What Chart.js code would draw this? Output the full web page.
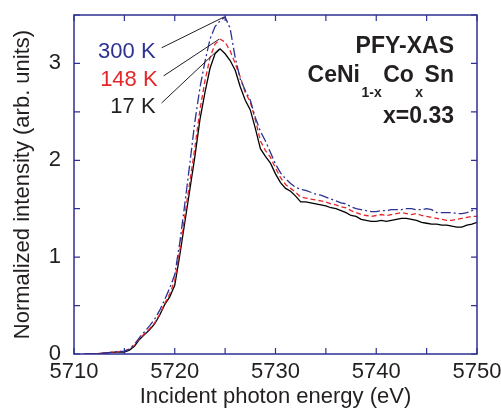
<!DOCTYPE html>
<html>
<head>
<meta charset="utf-8">
<script src="https://cdn.jsdelivr.net/npm/chart.js@4/dist/chart.umd.min.js"></script>
<style>
  html, body { margin: 0; padding: 0; background: #fff; }
  #wrap { width: 501px; height: 410px; }
</style>
</head>
<body>
<div id="wrap"><canvas id="xas"></canvas></div>
<script>
// photon energy (eV)
const energies = [
  5711, 5712, 5713, 5714, 5715, 5715.5, 5716, 5716.5, 5717, 5717.5,
  5718, 5718.5, 5719, 5719.5, 5720, 5720.5, 5721, 5721.5, 5722, 5722.5,
  5723, 5723.5, 5724, 5724.5, 5725, 5725.5, 5726, 5726.5, 5727, 5727.5,
  5728, 5728.5, 5729, 5729.5, 5730, 5730.5, 5731, 5731.5, 5732, 5732.5,
  5733, 5733.5, 5734, 5734.5, 5735, 5735.5, 5736, 5736.5, 5737, 5737.5,
  5738, 5738.5, 5739, 5739.5, 5740, 5740.5, 5741, 5741.5, 5742, 5742.5,
  5743, 5743.5, 5744, 5744.5, 5745, 5745.5, 5746, 5746.5, 5747, 5747.5,
  5748, 5748.5, 5749, 5749.5, 5750
];

const k300 = [
  0, 0, 0.01, 0.02, 0.03, 0.05, 0.10, 0.17, 0.23, 0.29,
  0.36, 0.45, 0.56, 0.68, 0.82, 1.15, 1.55, 1.97, 2.40, 2.75,
  3.02, 3.25, 3.38, 3.44, 3.48, 3.36, 3.06, 2.84, 2.72, 2.62,
  2.44, 2.30, 2.20, 2.08, 1.96, 1.87, 1.81, 1.76, 1.72, 1.70,
  1.69, 1.67, 1.65, 1.64, 1.62, 1.60, 1.58, 1.56, 1.55, 1.52,
  1.50, 1.49, 1.48, 1.47, 1.47, 1.48, 1.48, 1.49, 1.49, 1.49,
  1.50, 1.50, 1.49, 1.49, 1.50, 1.49, 1.46, 1.46, 1.46, 1.46,
  1.45, 1.45, 1.46, 1.48, 1.50
];

const k148 = [
  0, 0, 0.01, 0.02, 0.03, 0.05, 0.09, 0.16, 0.21, 0.26,
  0.32, 0.41, 0.52, 0.62, 0.76, 1.07, 1.43, 1.78, 2.13, 2.52,
  2.82, 3.06, 3.20, 3.25, 3.22, 3.13, 3.00, 2.86, 2.70, 2.60,
  2.42, 2.20, 2.10, 2.03, 1.92, 1.82, 1.75, 1.71, 1.67, 1.62,
  1.61, 1.60, 1.59, 1.58, 1.57, 1.55, 1.54, 1.52, 1.51, 1.48,
  1.46, 1.44, 1.43, 1.42, 1.43, 1.44, 1.43, 1.44, 1.45, 1.46,
  1.45, 1.44, 1.45, 1.43, 1.42, 1.41, 1.40, 1.39, 1.38, 1.38,
  1.39, 1.40, 1.41, 1.42, 1.42
];

const k17 = [
  0, 0, 0.01, 0.02, 0.02, 0.04, 0.08, 0.15, 0.20, 0.25,
  0.31, 0.40, 0.51, 0.59, 0.71, 1.02, 1.36, 1.70, 2.04, 2.42,
  2.70, 2.95, 3.10, 3.15, 3.10, 3.03, 2.93, 2.76, 2.62, 2.52,
  2.33, 2.12, 2.04, 1.97, 1.86, 1.77, 1.71, 1.68, 1.63, 1.57,
  1.57, 1.56, 1.55, 1.54, 1.53, 1.51, 1.50, 1.48, 1.46, 1.43,
  1.42, 1.39, 1.38, 1.37, 1.37, 1.38, 1.37, 1.38, 1.39, 1.40,
  1.40, 1.39, 1.38, 1.36, 1.35, 1.34, 1.34, 1.33, 1.33, 1.32,
  1.31, 1.31, 1.33, 1.34, 1.36
];

const seriesNames = ['300 K', '148 K', '17 K'];
const xTicks = [5710, 5720, 5730, 5740, 5750];
const yTicks = [0, 1, 2, 3];

const FONT = '"Liberation Sans", Arial, Helvetica, sans-serif';
const AXIS = '#2e3192';
const INK = '#231f20';
const BLUE = '#2e3192';
const RED = '#e4262a';

function pts(vals) {
  return energies.map((e, i) => ({ x: e, y: vals[i] }));
}

// keep the plot box where the layout padding puts it
function noPad(s) {
  s.paddingTop = 0; s.paddingBottom = 0; s.paddingLeft = 0; s.paddingRight = 0;
}

// frame with inward ticks, temperature labels with leader lines, sample text
const decor = {
  id: 'decor',
  afterDatasetsDraw(chart) {
    const { ctx, chartArea: a, scales: { x, y } } = chart;
    ctx.save();
    ctx.strokeStyle = AXIS;
    ctx.lineWidth = 1.5;
    ctx.strokeRect(a.left, a.top, a.right - a.left, a.bottom - a.top);
    ctx.lineWidth = 1.2;
    ctx.beginPath();
    for (let v = x.min; v <= x.max + 1e-6; v += 5) {
      const px = x.getPixelForValue(v);
      ctx.moveTo(px, a.bottom); ctx.lineTo(px, a.bottom - 6);
      ctx.moveTo(px, a.top); ctx.lineTo(px, a.top + 6);
    }
    for (let v = y.min; v <= y.max + 1e-6; v += 0.5) {
      const py = y.getPixelForValue(v);
      ctx.moveTo(a.left, py); ctx.lineTo(a.left + 6, py);
      ctx.moveTo(a.right, py); ctx.lineTo(a.right - 6, py);
    }
    ctx.stroke();

    // temperature labels
    const labelPos = [[5718.1, 3.12], [5718.3, 2.83], [5718.1, 2.55]];
    const colors = [BLUE, RED, INK];
    ctx.font = '22px ' + FONT;
    ctx.textAlign = 'right';
    ctx.textBaseline = 'middle';
    chart.data.datasets.forEach((ds, i) => {
      const lx = x.getPixelForValue(labelPos[i][0]);
      const ly = y.getPixelForValue(labelPos[i][1]);
      ctx.fillStyle = colors[i];
      ctx.fillText(seriesNames[i], lx, ly);
      // leader line to the peak of the curve
      let best = ds.data[0];
      ds.data.forEach(p => { if (p.y > best.y) best = p; });
      ctx.strokeStyle = INK;
      ctx.lineWidth = 1;
      ctx.beginPath();
      ctx.moveTo(lx + 6, ly - 4);
      ctx.lineTo(x.getPixelForValue(best.x) - 1, y.getPixelForValue(best.y));
      ctx.stroke();
    });

    // sample annotation (right aligned)
    const rx = a.right - 23;
    ctx.fillStyle = INK;
    ctx.textAlign = 'right';
    ctx.textBaseline = 'alphabetic';
    ctx.font = 'bold 23px ' + FONT;
    ctx.fillText('PFY-XAS', rx, a.top + 38);
    ctx.fillText('x=0.33', rx, a.top + 108);

    const parts = [['CeNi', 0], ['1-x', 1], ['Co', 0], ['x', 1], ['Sn', 0]];
    const big = 'bold 23px ' + FONT, small = 'bold 14px ' + FONT;
    let w = 0;
    parts.forEach(([t, s]) => { ctx.font = s ? small : big; w += ctx.measureText(t).width + (s ? 3 : 0); });
    let cx = rx - w;
    ctx.textAlign = 'left';
    const base = a.top + 67;
    parts.forEach(([t, s]) => {
      ctx.font = s ? small : big;
      ctx.fillText(t, cx + (s ? 1.5 : 0), s ? base + 15 : base);
      cx += ctx.measureText(t).width + (s ? 3 : 0);
    });
    ctx.restore();
  }
};

new Chart(document.getElementById('xas'), {
  type: 'line',
  data: {
    datasets: [
      { label: seriesNames[0], data: pts(k300), borderColor: BLUE, borderWidth: 1.3, borderDash: [10, 3, 2, 3] },
      { label: seriesNames[1], data: pts(k148), borderColor: RED, borderWidth: 1.3, borderDash: [5, 3] },
      { label: seriesNames[2], data: pts(k17), borderColor: '#000', borderWidth: 1.3 }
    ]
  },
  options: {
    responsive: true,
    maintainAspectRatio: false,
    animation: false,
    elements: { point: { radius: 0 }, line: { tension: 0 } },
    layout: { padding: { top: 15, right: 24, left: 0, bottom: 0 } },
    plugins: { legend: { display: false }, tooltip: { enabled: false } },
    scales: {
      x: {
        type: 'linear',
        min: 5710, max: 5750,
        afterFit: s => { s.height = 56; noPad(s); },
        afterBuildTicks: s => { s.ticks = xTicks.map(v => ({ value: v })); },
        grid: { display: false, drawTicks: false },
        border: { display: false },
        ticks: { font: { family: FONT, size: 22 }, color: INK, padding: 5, maxRotation: 0, autoSkip: false, callback: v => String(v) },
        title: { display: true, text: 'Incident photon energy (eV)', font: { family: FONT, size: 22 }, color: INK, padding: { top: 0, bottom: 0 } }
      },
      y: {
        min: 0, max: 3.5,
        afterFit: s => { s.width = 74; noPad(s); },
        afterBuildTicks: s => { s.ticks = yTicks.map(v => ({ value: v })); },
        grid: { display: false, drawTicks: false },
        border: { display: false },
        ticks: { font: { family: FONT, size: 22 }, color: INK, padding: 13, callback: v => String(v) },
        title: { display: true, text: 'Normalized intensity (arb. units)', font: { family: FONT, size: 22 }, color: INK, padding: { top: 10, bottom: 0 } }
      }
    }
  },
  plugins: [decor]
});
</script>
</body>
</html>
